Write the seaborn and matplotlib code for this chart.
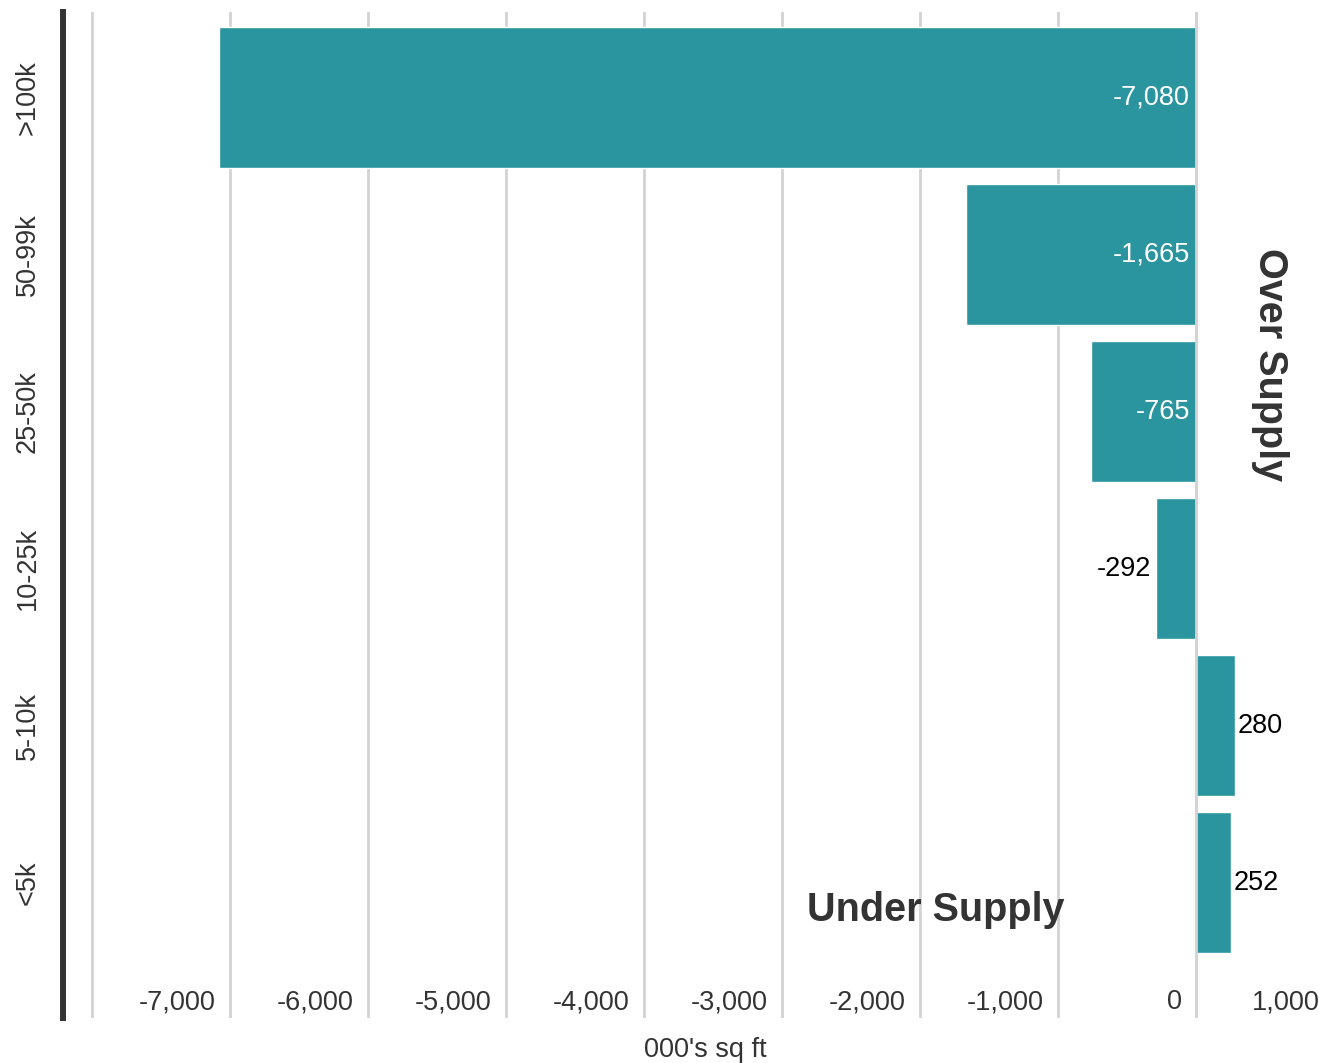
import matplotlib.pyplot as plt
import matplotlib.ticker as mticker
import pandas as pd
import seaborn as sns

categories = [">100k", "50-99k", "25-50k", "10-25k", "5-10k", "<5k"]
values = [-7080, -1665, -765, -292, 280, 252]
x_ticks = [-8000, -7000, -6000, -5000, -4000, -3000, -2000, -1000, 0, 1000]
x_tick_labels = ["", "-7,000", "-6,000", "-5,000", "-4,000", "-3,000", "-2,000", "-1,000", "0", "1,000"]

df = pd.DataFrame({"size": categories, "gap": values})

sns.set_theme(style="white")
plt.rcParams["font.family"] = ["Liberation Sans", "DejaVu Sans"]

bar_color = "#2a959e"
text_color = "#333333"

fig = plt.figure(figsize=(13.19, 10.63), dpi=100)
ax = fig.add_axes([63 / 1319, 1 - 1018 / 1063, 1285 / 1319, 1006 / 1063])

ax.set_axisbelow(True)
ax.grid(axis="x", color="#d3d3d3", linewidth=2)
ax.grid(axis="y", visible=False)

sns.barplot(data=df, x="gap", y="size", orient="h", color=bar_color,
            saturation=1, width=0.9, ax=ax)
ax.axvline(0, color="#d3d3d3", linewidth=2, zorder=3)

# value labels
for i, v in enumerate(values):
    label = f"{v:,}"
    if v < -500:
        ax.annotate(label, xy=(0, i), xytext=(-4.5, 0), textcoords="offset points",
                    ha="right", va="center", color="white", fontsize=19.5)
    elif v < 0:
        ax.annotate(label, xy=(v, i), xytext=(-3.5, 0), textcoords="offset points",
                    ha="right", va="center", color="black", fontsize=19.5)
    else:
        ax.annotate(label, xy=(v, i), xytext=(2, 0), textcoords="offset points",
                    ha="left", va="center", color="black", fontsize=19.5)

ax.text(535, 1.70, "Over Supply", rotation=270, ha="center", va="center",
        fontsize=28.5, fontweight="bold", color=text_color)
ax.text(-1886, 5.175, "Under Supply", ha="center", va="center",
        fontsize=28.5, fontweight="bold", color=text_color)

ax.set_xlim(-8210, 1100)
ax.set_ylim(5.863, -0.545)

# gridlines from major ticks; labels sit left of each gridline, inside the plot
ax.xaxis.set_major_locator(mticker.FixedLocator(x_ticks))
ax.set_xticklabels([""] * len(x_ticks))
xtrans = ax.get_xaxis_transform()
for t, lab in zip(x_ticks, x_tick_labels):
    ax.annotate(lab, xy=(t, 0), xycoords=xtrans, xytext=(-10.5, 11.5),
                textcoords="offset points", ha="right", va="center",
                fontsize=19.5, color=text_color, annotation_clip=False)

ax.tick_params(axis="x", length=0, pad=0)
ax.tick_params(axis="y", length=0, pad=16, labelsize=19.5, labelcolor=text_color)
for lab in ax.get_yticklabels():
    lab.set_rotation(90)
    lab.set_verticalalignment("center")

ax.set_xlabel("000's sq ft", fontsize=19.5, color=text_color, labelpad=14)
ax.set_ylabel("")

for side in ["top", "right", "bottom"]:
    ax.spines[side].set_visible(False)
ax.spines["left"].set_color(text_color)
ax.spines["left"].set_linewidth(4.3)

plt.savefig("out.png", dpi=100)
